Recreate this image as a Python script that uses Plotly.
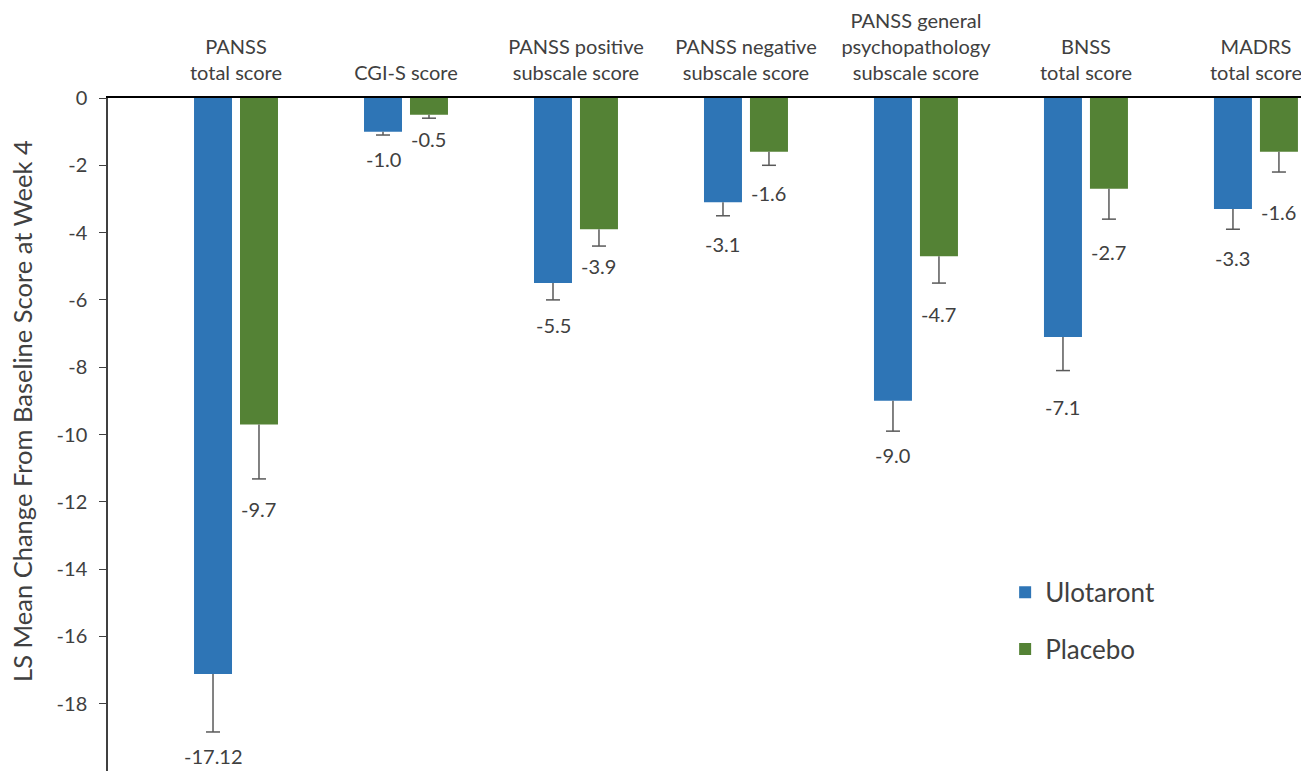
import plotly.graph_objects as go

categories = ["PANSS<br>total score", "CGI-S score", "PANSS positive<br>subscale score",
              "PANSS negative<br>subscale score", "PANSS general<br>psychopathology<br>subscale score",
              "BNSS<br>total score", "MADRS<br>total score"]
ulotaront = [-17.12, -1.0, -5.5, -3.1, -9.0, -7.1, -3.3]
ulotaront_err = [1.72, 0.1, 0.5, 0.4, 0.9, 1.0, 0.6]
ulotaront_labels = ["-17.12", "-1.0", "-5.5", "-3.1", "-9.0", "-7.1", "-3.3"]
placebo = [-9.7, -0.5, -3.9, -1.6, -4.7, -2.7, -1.6]
placebo_err = [1.62, 0.1, 0.5, 0.4, 0.8, 0.9, 0.6]
placebo_labels = ["-9.7", "-0.5", "-3.9", "-1.6", "-4.7", "-2.7", "-1.6"]
y_ticks = [0, -2, -4, -6, -8, -10, -12, -14, -16, -18, -20]
y_tick_labels = ["0", "-2", "-4", "-6", "-8", "-10", "-12", "-14", "-16", "-18", "-20"]
y_title = "LS Mean Change From Baseline Score at Week 4"

# styling: pixel gap between error-bar end and its value label (as placed in the original)
ulotaront_label_gap = [24, 24, 25, 28, 24, 36, 29]
placebo_label_gap = [30, 21, 20, 28, 31, 33, 40]

BLUE = "#2E75B6"
GREEN = "#548235"
TXT = "#404040"
ERR = "#595959"
FONT = "Lato"

idx = list(range(len(categories)))
BAR_W = 0.2235
series = [
    ("Ulotaront", ulotaront, ulotaront_err, ulotaront_labels, ulotaront_label_gap, BLUE, -0.247),
    ("Placebo", placebo, placebo_err, placebo_labels, placebo_label_gap, GREEN, 0.0235),
]

fig = go.Figure()
for name, vals, errs, labels, gaps, color, off in series:
    fig.add_trace(go.Bar(x=idx, y=vals, name=name, marker_color=color, marker_line_width=0,
                         width=BAR_W, offset=off, legendgroup=name,
                         error_y=dict(type="data", symmetric=False, array=[0] * len(vals),
                                      arrayminus=errs, color=ERR, thickness=1.5, width=0)))
for name, vals, errs, labels, gaps, color, off in series:
    cx = [i + off + BAR_W / 2 for i in idx]
    ends = [v - e for v, e in zip(vals, errs)]
    fig.add_trace(go.Scatter(x=cx, y=ends, mode="markers", showlegend=False, hoverinfo="skip",
                             marker=dict(symbol="line-ew", size=10, line=dict(color=ERR, width=1.5))))
    for x, y, t, g in zip(cx, ends, labels, gaps):
        fig.add_annotation(x=x, y=y, text=t, showarrow=False, yshift=-g, yanchor="middle",
                           font=dict(family=FONT, size=20, color=TXT))

fig.add_annotation(xref="paper", yref="paper", x=0, y=0.535, xshift=-86, xanchor="center",
                   yanchor="middle", textangle=-90, text=y_title, showarrow=False,
                   font=dict(family=FONT, size=25.5, color=TXT))

fig.update_layout(
    width=1293, height=763,
    margin=dict(l=100, r=0, t=90, b=0, autoexpand=False),
    paper_bgcolor="white", plot_bgcolor="white",
    font=dict(family=FONT, color=TXT),
    showlegend=True,
    legend=dict(x=0.752, y=0.3005, xanchor="left", yanchor="top", bgcolor="rgba(0,0,0,0)",
                font=dict(family=FONT, size=26, color=TXT), tracegroupgap=20, itemwidth=30),
    xaxis=dict(side="top", range=[-0.753, 6.265], tickvals=idx, ticktext=categories,
               automargin=False, ticklabeloverflow="allow",
               showline=True, linecolor="black", linewidth=1.5, ticks="", ticklabelstandoff=8,
               tickfont=dict(family=FONT, size=20, color=TXT), showgrid=False, zeroline=False),
    yaxis=dict(range=[-20, 0], tickvals=y_ticks, ticktext=y_tick_labels, showgrid=False,
               automargin=False, zeroline=False, showline=True, linecolor="#404040", linewidth=1.5,
               ticks="outside", ticklen=7, tickcolor="#404040", ticklabelstandoff=8,
               tickfont=dict(family=FONT, size=20, color=TXT)),
)

fig.write_html("out.html")
